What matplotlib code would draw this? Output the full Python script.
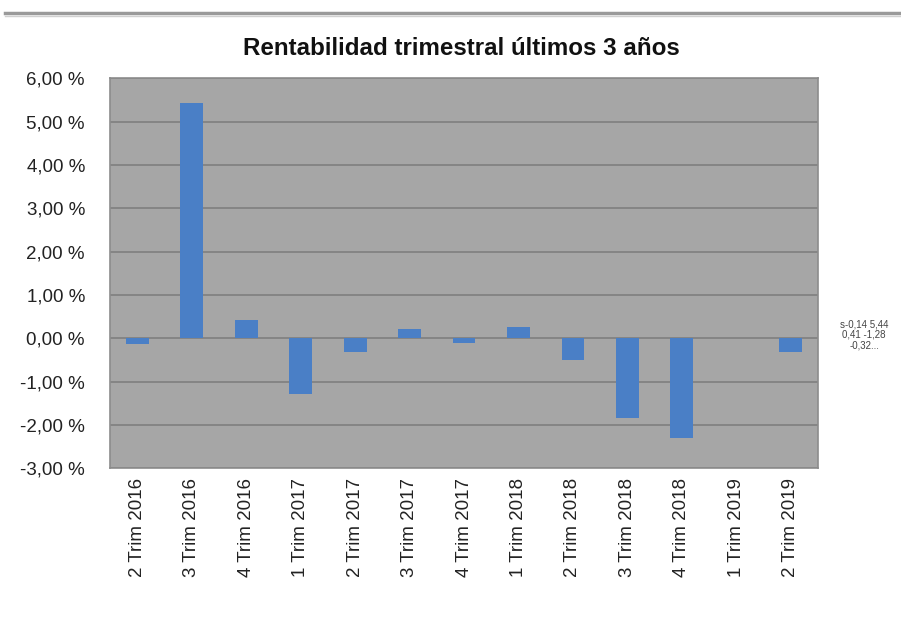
import matplotlib
matplotlib.use("Agg")
import matplotlib.pyplot as plt
import numpy as np

categories = ["2 Trim 2016", "3 Trim 2016", "4 Trim 2016", "1 Trim 2017", "2 Trim 2017",
              "3 Trim 2017", "4 Trim 2017", "1 Trim 2018", "2 Trim 2018", "3 Trim 2018",
              "4 Trim 2018", "1 Trim 2019", "2 Trim 2019"]
values = [-0.14, 5.44, 0.41, -1.28, -0.32, 0.22, -0.10, 0.26, -0.50, -1.85, -2.30, 0.0, -0.32]
yticks = [6, 5, 4, 3, 2, 1, 0, -1, -2, -3]
title = "Rentabilidad trimestral últimos 3 años"
side_text = "s-0,14 5,44\n0,41 -1,28\n-0,32..."

plt.rcParams['font.family'] = ['Liberation Sans', 'DejaVu Sans']

fig = plt.figure(figsize=(9.01, 6.26), dpi=100)
fig.patch.set_facecolor("white")
ax = fig.add_axes([0.122, 0.252, 0.786, 0.623])
ax.set_facecolor("#a6a6a6")

x = np.arange(len(categories))
ax.bar(x, values, width=0.42, color="#4a7fc6", zorder=3)

ax.set_ylim(-3, 6)
ax.set_xlim(-0.5, len(categories) - 0.5)
ax.set_yticks(yticks)
ax.set_yticklabels([f"{v:.2f}".replace(".", ",") + " %" for v in yticks], fontsize=13.5, color="#222222")
ax.set_xticks(x)
ax.set_xticklabels(categories, rotation=90, fontsize=13.5, color="#222222")
ax.tick_params(axis="y", length=0, pad=18)
ax.tick_params(axis="x", length=0, pad=7)
ax.yaxis.grid(True, color="#7f7f7f", linewidth=1.2, zorder=1)
ax.set_axisbelow(True)
for s in ax.spines.values():
    s.set_color("#8c8c8c")
    s.set_linewidth(1.2)

fig.text(0.512, 0.922, title, ha="center", va="center", fontsize=17.4, fontweight="bold", color="#111111")

# top separator line
fig.add_artist(plt.Line2D([0.005, 1.0], [0.979, 0.979], color="#9a9a9a", linewidth=2.5))
fig.add_artist(plt.Line2D([0.005, 1.0], [0.975, 0.975], color="#d0d0d0", linewidth=1))

fig.text(0.959, 0.465, side_text, ha="center", va="center", fontsize=7, color="#444444", linespacing=1.1)

fig.savefig("out.png", dpi=100)
